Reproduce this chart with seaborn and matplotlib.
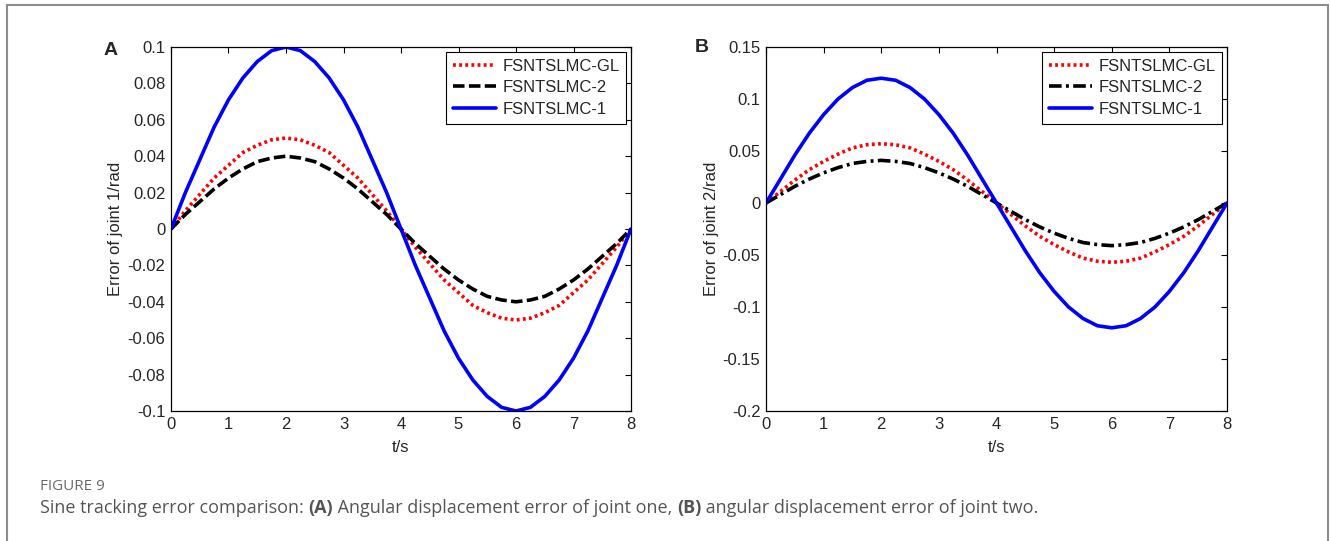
import numpy as np
import pandas as pd
import matplotlib
matplotlib.use("Agg")
import matplotlib.pyplot as plt
from matplotlib.patches import Rectangle
import seaborn as sns

# ---- data ----
t = [0.0, 0.25, 0.5, 0.75, 1.0, 1.25, 1.5, 1.75, 2.0, 2.25, 2.5, 2.75, 3.0, 3.25, 3.5, 3.75,
     4.0, 4.25, 4.5, 4.75, 5.0, 5.25, 5.5, 5.75, 6.0, 6.25, 6.5, 6.75, 7.0, 7.25, 7.5, 7.75, 8.0]

a_gl = [0, 0.010, 0.019, 0.028, 0.035, 0.042, 0.046, 0.049, 0.050, 0.049, 0.046, 0.042, 0.035, 0.028, 0.019, 0.010,
        0, -0.010, -0.019, -0.028, -0.035, -0.042, -0.046, -0.049, -0.050, -0.049, -0.046, -0.042, -0.035, -0.028, -0.019, -0.010, 0]
a_2 = [0, 0.008, 0.015, 0.022, 0.028, 0.033, 0.037, 0.039, 0.040, 0.039, 0.037, 0.033, 0.028, 0.022, 0.015, 0.008,
       0, -0.008, -0.015, -0.022, -0.028, -0.033, -0.037, -0.039, -0.040, -0.039, -0.037, -0.033, -0.028, -0.022, -0.015, -0.008, 0]
a_1 = [0, 0.020, 0.038, 0.056, 0.071, 0.083, 0.092, 0.098, 0.100, 0.098, 0.092, 0.083, 0.071, 0.056, 0.038, 0.020,
       0, -0.020, -0.038, -0.056, -0.071, -0.083, -0.092, -0.098, -0.100, -0.098, -0.092, -0.083, -0.071, -0.056, -0.038, -0.020, 0]

b_gl = [0, 0.011, 0.022, 0.032, 0.040, 0.047, 0.053, 0.056, 0.057, 0.056, 0.053, 0.047, 0.040, 0.032, 0.022, 0.011,
        0, -0.011, -0.022, -0.032, -0.040, -0.047, -0.053, -0.056, -0.057, -0.056, -0.053, -0.047, -0.040, -0.032, -0.022, -0.011, 0]
b_2 = [0, 0.008, 0.016, 0.023, 0.029, 0.034, 0.038, 0.040, 0.041, 0.040, 0.038, 0.034, 0.029, 0.023, 0.016, 0.008,
       0, -0.008, -0.016, -0.023, -0.029, -0.034, -0.038, -0.040, -0.041, -0.040, -0.038, -0.034, -0.029, -0.023, -0.016, -0.008, 0]
b_1 = [0, 0.023, 0.046, 0.067, 0.085, 0.100, 0.111, 0.118, 0.120, 0.118, 0.111, 0.100, 0.085, 0.067, 0.046, 0.023,
       0, -0.023, -0.046, -0.067, -0.085, -0.100, -0.111, -0.118, -0.120, -0.118, -0.111, -0.100, -0.085, -0.067, -0.046, -0.023, 0]

series_names = ["FSNTSLMC-GL", "FSNTSLMC-2", "FSNTSLMC-1"]

x_ticks = [0, 1, 2, 3, 4, 5, 6, 7, 8]
a_yticks = [-0.1, -0.08, -0.06, -0.04, -0.02, 0, 0.02, 0.04, 0.06, 0.08, 0.1]
a_ylabels = ["-0.1", "-0.08", "-0.06", "-0.04", "-0.02", "0", "0.02", "0.04", "0.06", "0.08", "0.1"]
b_yticks = [-0.2, -0.15, -0.1, -0.05, 0, 0.05, 0.1, 0.15]
b_ylabels = ["-0.2", "-0.15", "-0.1", "-0.05", "0", "0.05", "0.1", "0.15"]

# ---- styling ----
sns.set_style("white")
plt.rcParams["font.family"] = ["Liberation Sans", "DejaVu Sans"]

W, H = 1330, 541
fig = plt.figure(figsize=(W / 100, H / 100), dpi=100)

def px_axes(x0, y0, x1, y1):
    return fig.add_axes([x0 / W, 1 - y1 / H, (x1 - x0) / W, (y1 - y0) / H])

axA = px_axes(171, 47, 631, 411)
axB = px_axes(766, 47, 1227, 411)

def draw(ax, gl, s2, s1, style2, yticks, ylabels, ylim, ylabel):
    df = pd.DataFrame({"t": t, "gl": gl, "s2": s2, "s1": s1})
    sns.lineplot(data=df, x="t", y="gl", ax=ax, color="#ff0000", lw=2.6,
                 linestyle=(0, (0.8, 0.9)), label=series_names[0])
    sns.lineplot(data=df, x="t", y="s2", ax=ax, color="black", lw=2.6,
                 linestyle=style2, label=series_names[1])
    sns.lineplot(data=df, x="t", y="s1", ax=ax, color="#0000ff", lw=2.6,
                 linestyle="-", label=series_names[2])
    ax.set_xlim(0, 8)
    ax.set_ylim(*ylim)
    ax.set_xticks(x_ticks)
    ax.set_xticklabels([str(v) for v in x_ticks])
    ax.set_yticks(yticks)
    ax.set_yticklabels(ylabels)
    ax.tick_params(direction="in", length=4, width=0.8, top=True, right=True,
                   labelsize=12, colors="black", pad=4, labelcolor="#262626")
    for sp in ax.spines.values():
        sp.set_color("black")
        sp.set_linewidth(0.9)
        sp.set_visible(True)
    ax.set_xlabel("t/s", fontsize=12, labelpad=6, color="#262626")
    ax.set_ylabel(ylabel, fontsize=12, labelpad=3, color="#262626")
    leg = ax.legend(loc="upper right", fontsize=12, frameon=True, fancybox=False,
                    edgecolor="black", framealpha=1, handlelength=2.6,
                    handletextpad=0.35, borderpad=0.4, labelspacing=0.4,
                    borderaxespad=0.3)
    leg.get_frame().set_linewidth(0.8)

draw(axA, a_gl, a_2, a_1, (0, (3.2, 1.2)), a_yticks, a_ylabels, (-0.1, 0.1), "Error of joint 1/rad")
draw(axB, b_gl, b_2, b_1, (0, (3.5, 1.2, 0.8, 1.2)), b_yticks, b_ylabels, (-0.2, 0.15), "Error of joint 2/rad")

fig.text(104 / W, 1 - 50 / H, "A", fontsize=14, fontweight="bold", va="center", ha="left")
fig.text(695 / W, 1 - 48 / H, "B", fontsize=14, fontweight="bold", va="center", ha="left")

# outer frame
fig.patches.append(Rectangle((7 / W, -0.05), (1328 - 7) / W, 1.05 - 5 / H,
                             transform=fig.transFigure, fill=False,
                             edgecolor="#8c8c8c", lw=1.5))

# caption
cap_font = ["Open Sans", "DejaVu Sans"]
fig.text(40 / W, 1 - 486 / H, "FIGURE 9", fontsize=11, color="#6a6a6a",
         family=cap_font, va="center", ha="left")

renderer = fig.canvas.get_renderer()
pieces = [("Sine tracking error comparison: ", "normal"), ("(A)", "bold"),
          (" Angular displacement error of joint one, ", "normal"), ("(B)", "bold"),
          (" angular displacement error of joint two.", "normal")]
x = 40 / W
for txt, wt in pieces:
    tt = fig.text(x, 1 - 508 / H, txt, fontsize=13, color="#555555", family=cap_font,
                  fontweight=wt, va="center", ha="left")
    bb = tt.get_window_extent(renderer=renderer)
    x += bb.width / W

fig.savefig("out.png", dpi=100)
